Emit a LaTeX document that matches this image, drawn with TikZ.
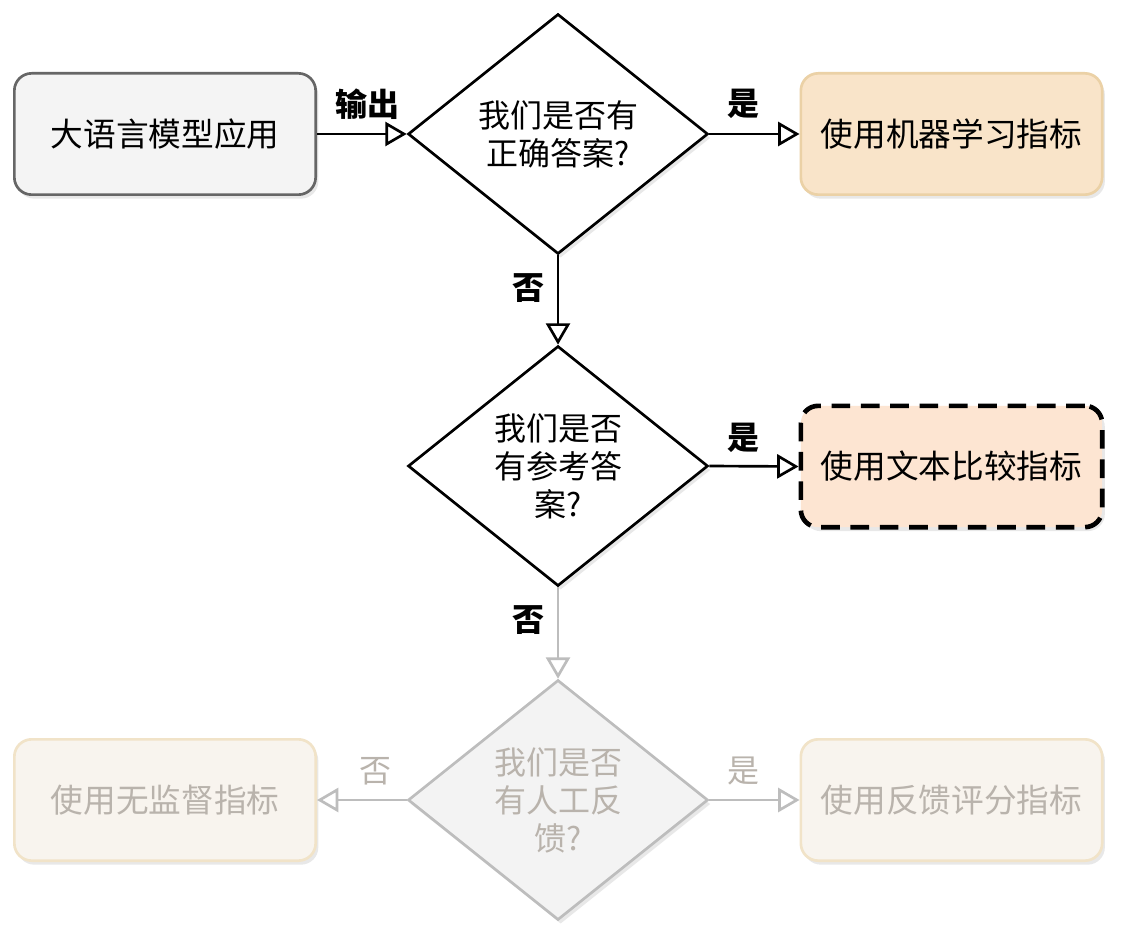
\documentclass[tikz,border=0pt]{standalone}
\usepackage{fontspec}
\setmainfont{Noto Sans CJK SC}
\usetikzlibrary{shapes.geometric,arrows.meta,shadows}
\definecolor{boxgray}{HTML}{F4F4F4}
\definecolor{boxborder}{HTML}{666666}
\definecolor{orfill}{HTML}{F9E4C9}
\definecolor{orborder}{HTML}{EBD1A6}
\definecolor{peach}{HTML}{FDE5D2}
\definecolor{fadefill}{HTML}{F8F4EE}
\definecolor{fadeborder}{HTML}{F1E3C8}
\definecolor{fadetext}{HTML}{B9B3AC}
\definecolor{fadeline}{HTML}{BDBDBD}
\definecolor{fadedia}{HTML}{F3F3F3}
\tikzset{
  shad/.style={drop shadow={opacity=0.18,shadow xshift=2pt,shadow yshift=-3pt}},
  rbox/.style={rectangle,rounded corners=13pt,minimum width=226pt,minimum height=91pt,
    line width=2pt,align=center,font=\fontsize{24.5}{28}\selectfont,shad},
  dia/.style={diamond,aspect=1,inner sep=0pt,minimum width=225pt,minimum height=180pt,
    line width=2pt,align=center,font=\fontsize{24}{28.5}\selectfont,shad},
  arr/.style={line width=2pt,-{Triangle[open,length=16pt,width=18pt,line width=2pt]}},
  lbl/.style={font=\bfseries\fontsize{24}{26}\selectfont},
  fadelbl/.style={font=\fontsize{24}{26}\selectfont,text=fadetext}
}
\begin{document}
\begin{tikzpicture}[x=0.75pt,y=-0.75pt]
\useasboundingbox (0,0) rectangle (1126,944);
\fill[white] (0,0) rectangle (1126,944);
% nodes
\node[rbox,draw=boxborder,fill=boxgray] (app) at (165,134) {大语言模型应用};
\node[dia,draw=black,fill=white] (d1) at (558,134) {我们是否有\\正确答案?};
\node[rbox,draw=orborder,fill=orfill] (ml) at (951.5,134) {使用机器学习指标};
\node[dia,draw=black,fill=white] (d2) at (558,466) {我们是否\\有参考答\\案?};
\node[rbox,draw=black,fill=peach,dash pattern=on 14pt off 8pt,line width=3.5pt] (tc) at (951.5,466.5) {使用文本比较指标};
\node[dia,draw=fadeline,fill=fadedia,text=fadetext] (d3) at (558,800) {我们是否\\有人工反\\馈?};
\node[rbox,draw=fadeborder,fill=fadefill,text=fadetext] (un) at (165,800) {使用无监督指标};
\node[rbox,draw=fadeborder,fill=fadefill,text=fadetext] (fb) at (951.5,800) {使用反馈评分指标};
% connectors
\draw[arr] (app.east) -- (d1.west);
\draw[arr] (d1.east) -- (ml.west);
\draw[arr] (d1.south) -- (d2.north);
\draw[arr] (d2.east) -- (tc.west);
\draw[arr,draw=fadeline] (d2.south) -- (d3.north);
\draw[arr,draw=fadeline] (d3.west) -- (un.east);
\draw[arr,draw=fadeline] (d3.east) -- (fb.west);
% labels
\node[lbl] (l1) at (367,104) {输出};
\node[lbl] (l2) at (743,104) {是};
\node[lbl] (l3) at (528,288) {否};
\node[lbl] (l4) at (743,438) {是};
\node[lbl] (l5) at (528,620) {否};
\node[fadelbl] (l6) at (375,771) {否};
\node[fadelbl] (l7) at (743,771) {是};
\end{tikzpicture}
\end{document}
